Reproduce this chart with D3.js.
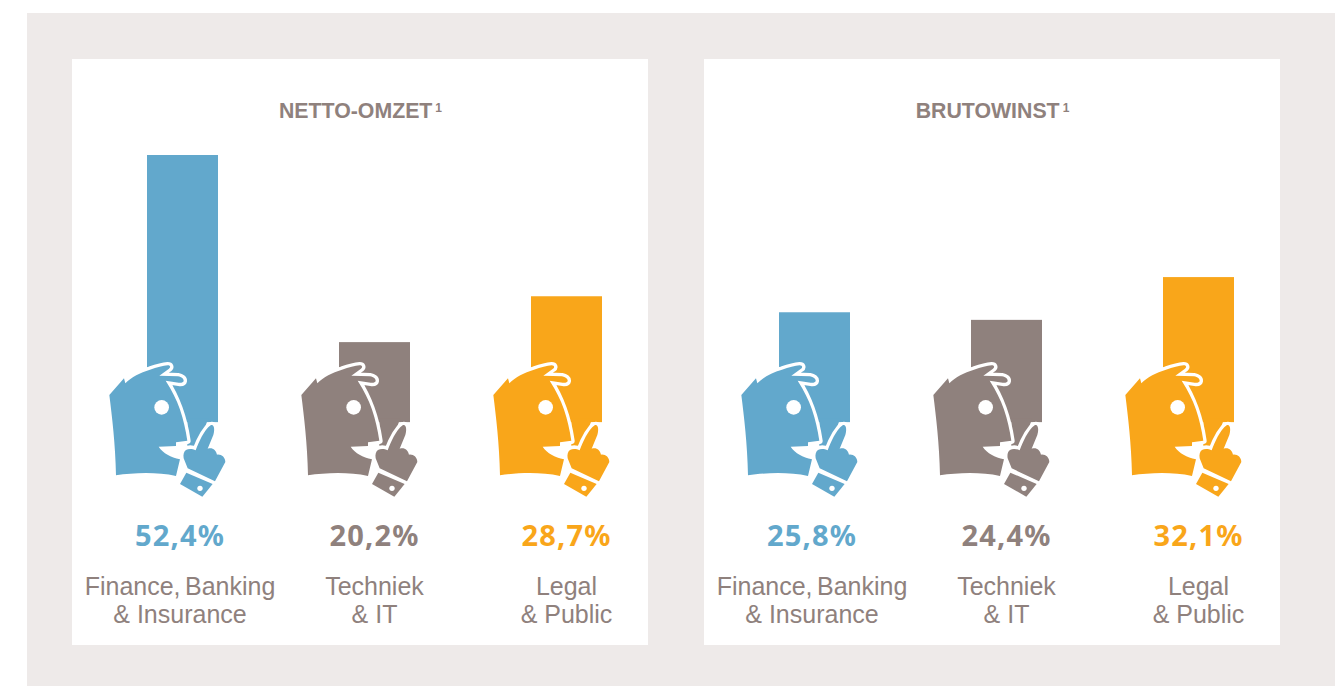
<!DOCTYPE html>
<html>
<head>
<meta charset="utf-8">
<script src="https://cdn.jsdelivr.net/npm/d3@7"></script>
<style>
  html, body { margin: 0; padding: 0; background: #fff; }
  svg { display: block; }
</style>
</head>
<body>
<svg id="chart"></svg>
<script>
var categories = ["Finance, Banking", "Techniek", "Legal"];
var categoriesLine2 = ["& Insurance", "& IT", "& Public"];
var titles = ["NETTO-OMZET", "BRUTOWINST"];
var nettoValues = [52.4, 20.2, 28.7];
var brutoValues = [25.8, 24.4, 32.1];
var colors = ["#62a8cc", "#8f817d", "#f9a61a"];

var width = 1335, height = 686;
var panelW = 576, panelStep = 632;
var gray = "#8f817d";

// the bars in the picture are not linear with the numbers, power 1.2 fits them
var y = d3.scalePow().exponent(1.2).domain([0, 52.4]).range([429.6, 155]);
var barFloor = 2.6;
var x = d3.scalePoint().domain(d3.range(3)).range([182.5, 566.5]);
var labelX = d3.scaleOrdinal().domain(d3.range(3)).range([180, 374.5, 566.5]);

// icon traced in 3x coordinates, origin at (100,350) for the first bar
var tailPath = "M262,205 L325,205 L290,300 L262,290 Z";
var headPath = "M28,135 L72,85 L76,100 C95,80 120,68 150,59 C170,52 190,47 203,46 C211,46 213,52 207,56 L178,77 L234,79 C245,81 252,87 251,93 C250,98 243,99 236,98 L197,92 C235,150 252,205 262,272 L228,277 L228,288 L176,290 C190,310 212,322 240,328 L228,378 C170,365 100,368 48,376 C46,280 36,200 28,135 Z";
var handPath = "M258,300 C266,295 278,296 287,301 C296,278 312,240 332,226 C343,221 345,240 340,255 L323,296 C338,292 348,300 351,314 C364,312 376,322 376,336 L345,394 L263,355 L251,325 C249,313 252,304 258,300 Z";
var cuffPath = "M259,368 L338,402 L307,440 L240,402 Z";

var svg = d3.select("#chart").attr("width", width).attr("height", height);

svg.append("rect").attr("x", 27).attr("y", 13)
    .attr("width", width - 27).attr("height", height - 13).attr("fill", "#eeeae9");

function drawPanel(title, values, p){
    var g = svg.append("g").attr("transform", "translate(" + (p * panelStep) + ",0)");

    g.append("rect").attr("x", 72).attr("y", 59)
        .attr("width", panelW).attr("height", 586).attr("fill", "#fff");

    var t = g.append("text")
        .attr("x", 360.5).attr("y", 118)
        .attr("text-anchor", "middle")
        .attr("font-family", "'Liberation Sans', Arial, sans-serif")
        .attr("font-weight", 700).attr("font-size", 21.3)
        .attr("fill", gray)
        .text(title);
    t.append("tspan").attr("font-size", 12).attr("dx", 3).attr("dy", -6).text("1");

    g.selectAll("rect.bar").data(values).enter().append("rect")
        .attr("class", "bar")
        .attr("x", (d, i) => x(i) - 35.5)
        .attr("y", d => y(d))
        .attr("width", 71)
        .attr("height", d => y(barFloor) - y(d))
        .attr("fill", (d, i) => colors[i]);

    var icons = g.selectAll("g.icon").data(values).enter().append("g")
        .attr("class", "icon")
        .attr("transform", (d, i) => "translate(" + (x(i) - 82.5) + ",350) scale(0.3333)")
        .attr("fill", (d, i) => colors[i]);

    icons.append("path").attr("d", tailPath);
    [headPath, handPath].forEach(function(path){
        icons.append("path").attr("d", path)
            .attr("stroke", "#fff").attr("stroke-width", 20)
            .attr("stroke-linejoin", "round")
            .attr("paint-order", "stroke");
    });
    icons.append("path").attr("d", cuffPath);
    icons.append("circle").attr("cx", 300).attr("cy", 415).attr("r", 8).attr("fill", "#fff");
    icons.append("circle").attr("cx", 185).attr("cy", 172).attr("r", 22).attr("fill", "#fff");

    g.selectAll("text.value").data(values).enter().append("text")
        .attr("class", "value")
        .attr("x", (d, i) => labelX(i)).attr("y", 546)
        .attr("text-anchor", "middle")
        .attr("font-family", "'Noto Sans', sans-serif")
        .attr("font-weight", 700).attr("font-size", 29)
        .attr("letter-spacing", 1.2)
        .attr("fill", (d, i) => colors[i])
        .text(d => String(d).replace(".", ",") + "%");

    g.selectAll("text.cat1").data(categories).enter().append("text")
        .attr("class", "cat1")
        .attr("x", (d, i) => labelX(i)).attr("y", 594.5)
        .attr("text-anchor", "middle")
        .attr("font-family", "'Liberation Sans', Arial, sans-serif")
        .attr("font-size", 25).attr("word-spacing", -2.5).attr("fill", gray)
        .text(d => d);

    g.selectAll("text.cat2").data(categoriesLine2).enter().append("text")
        .attr("class", "cat2")
        .attr("x", (d, i) => labelX(i)).attr("y", 622.5)
        .attr("text-anchor", "middle")
        .attr("font-family", "'Liberation Sans', Arial, sans-serif")
        .attr("font-size", 25).attr("fill", gray)
        .text(d => d);
}

drawPanel(titles[0], nettoValues, 0);
drawPanel(titles[1], brutoValues, 1);
</script>
</body>
</html>
